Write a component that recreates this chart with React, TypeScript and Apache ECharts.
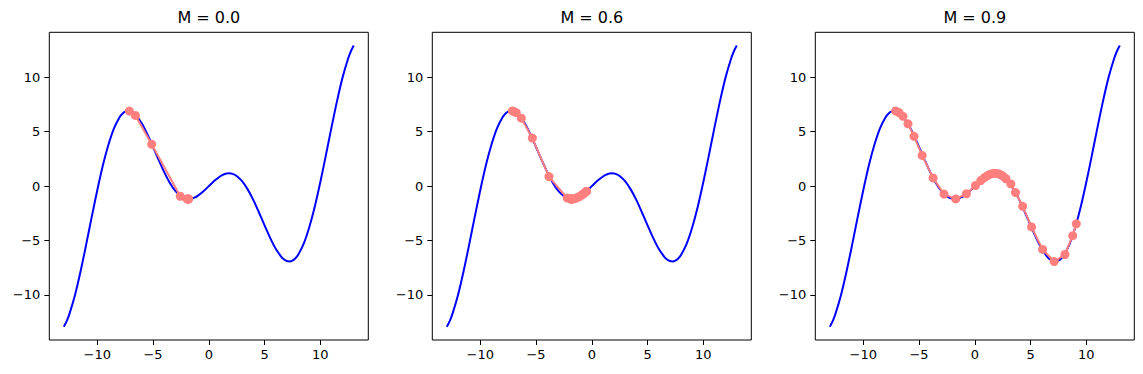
import { useEffect, useRef } from "react";
import * as echarts from "echarts";

// Objective curve, same in all three panels
const curveX = [
  -13, -12.75, -12.5, -12, -11.5, -11, -10.5, -10, -9.5, -9, -8.5, -8, -7.75, -7.5, -7.25, -7, -6.75, -6.5,
  -6, -5.5, -5, -4.5, -4, -3.5, -3, -2.5, -2.25, -2, -1.75, -1.5, -1.25, -1, -0.5, 0, 0.5, 1, 1.25, 1.5, 1.75,
  2, 2.25, 2.5, 3, 3.5, 4, 4.5, 5, 5.5, 6, 6.5, 6.75, 7, 7.25, 7.5, 7.75, 8, 8.5, 9, 9.5, 10, 10.5, 11, 11.5,
  12, 12.5, 12.75, 13,
];
const curveY = [
  -12.92, -12.42, -11.76, -10.02, -7.84, -5.4, -2.85, -0.38, 1.89, 3.8, 5.31, 6.33, 6.65, 6.84, 6.92, 6.88,
  6.74, 6.49, 5.75, 4.75, 3.6, 2.42, 1.29, 0.32, -0.44, -0.93, -1.08, -1.16, -1.18, -1.14, -1.04, -0.89,
  -0.49, 0, 0.49, 0.89, 1.04, 1.14, 1.18, 1.16, 1.08, 0.93, 0.44, -0.32, -1.29, -2.42, -3.6, -4.75, -5.75,
  -6.49, -6.74, -6.88, -6.92, -6.84, -6.65, -6.33, -5.31, -3.8, -1.89, 0.38, 2.85, 5.4, 7.84, 10.02, 11.76,
  12.42, 12.92,
];

const titles = ["M = 0.0", "M = 0.6", "M = 0.9"];

// Descent paths
const m0X = [-7.12, -6.58, -5.12, -2.56, -1.95, -1.86, -1.83, -1.82];
const m0Y = [6.9, 6.5, 3.85, -0.93, -1.17, -1.18, -1.18, -1.18];

const m6X = [
  -7.12, -7.02, -6.78, -6.32, -5.33, -3.84, -2.2, -1.75, -1.3, -0.9, -0.62, -0.47, -0.52, -0.76, -1.1, -1.45,
  -1.7, -1.84, -1.88, -1.84,
];
const m6Y = [
  6.91, 6.88, 6.76, 6.25, 4.42, 0.88, -1.1, -1.18, -1.06, -0.82, -0.6, -0.46, -0.51, -0.71, -0.95, -1.12,
  -1.17, -1.18, -1.18, -1.18,
];

const m9X = [
  -7.1, -6.8, -6.44, -5.99, -5.45, -4.72, -3.74, -2.76, -1.71, -0.75, 0.06, 0.54, 0.85, 1.1, 1.35, 1.55, 1.75,
  1.95, 2.15, 2.35, 2.55, 2.79, 3.23, 3.65, 4.29, 5.09, 6.08, 7.12, 8.08, 8.78, 9.1,
];
const m9Y = [
  6.91, 6.77, 6.42, 5.73, 4.58, 2.82, 0.76, -0.73, -1.17, -0.7, 0.06, 0.52, 0.78, 0.95, 1.08, 1.15, 1.18,
  1.17, 1.12, 1.03, 0.9, 0.68, 0.2, -0.59, -1.85, -3.75, -5.82, -6.93, -6.28, -4.55, -3.46,
];

const xTicks = [-10, -5, 0, 5, 10];
const yTicks = [-10, -5, 0, 5, 10];

const pathsX = [m0X, m6X, m9X];
const pathsY = [m0Y, m6Y, m9Y];

const FONT = "DejaVu Sans";

export default function App() {
  const ref = useRef<HTMLDivElement>(null);
  useEffect(() => {
    const chart = echarts.init(ref.current!, null, { renderer: "svg" });
    const lefts = [49.3, 432.3, 815.3];
    const gw = 319;
    const top = 32.3;
    const gh = 307.7;
    const curve = curveX.map((x, i) => [x, curveY[i]]);
    const fmt = (v: number) => String(v).replace("-", "\u2212");

    const grid = lefts.map((l) => ({
      left: l,
      top,
      width: gw,
      height: gh,
      show: true,
      borderColor: "#000",
      borderWidth: 1,
      backgroundColor: "transparent",
      containLabel: false,
    }));

    const xAxis = lefts.map((_, i) => ({
      type: "value",
      gridIndex: i,
      min: -14.3,
      max: 14.3,
      axisLine: { show: false, onZero: false },
      axisTick: { show: true, length: 5, lineStyle: { color: "#000", width: 1 }, customValues: xTicks },
      axisLabel: {
        customValues: xTicks,
        formatter: fmt,
        color: "#000",
        fontSize: 13,
        fontFamily: FONT,
        margin: 8,
      },
      splitLine: { show: false },
    }));

    const yAxis = lefts.map((_, i) => ({
      type: "value",
      gridIndex: i,
      min: -14.14,
      max: 14.14,
      axisLine: { show: false, onZero: false },
      axisTick: { show: true, length: 5, lineStyle: { color: "#000", width: 1 }, customValues: yTicks },
      axisLabel: {
        customValues: yTicks,
        formatter: fmt,
        color: "#000",
        fontSize: 13,
        fontFamily: FONT,
        margin: 9,
      },
      splitLine: { show: false },
    }));

    const series: any[] = [];
    lefts.forEach((_, i) => {
      series.push({
        type: "line",
        xAxisIndex: i,
        yAxisIndex: i,
        data: curve,
        showSymbol: false,
        smooth: 0.3,
        lineStyle: { color: "#0000ff", width: 2 },
        silent: true,
        z: 2,
      });
      series.push({
        type: "line",
        xAxisIndex: i,
        yAxisIndex: i,
        data: pathsX[i].map((x, k) => [x, pathsY[i][k]]),
        symbol: "circle",
        symbolSize: 9,
        showSymbol: true,
        showAllSymbol: true,
        itemStyle: { color: "#ff7f7f" },
        lineStyle: { color: "#ff7f7f", width: 2 },
        silent: true,
        z: 3,
      });
    });

    const graphic = lefts.map((l, i) => ({
      type: "text",
      x: l + gw / 2,
      y: 17.5,
      style: {
        text: titles[i],
        fontSize: 16,
        fontFamily: FONT,
        fill: "#000",
        textAlign: "center",
        textVerticalAlign: "middle",
      },
    }));

    chart.setOption({
      animation: false,
      backgroundColor: "#fff",
      grid,
      xAxis,
      yAxis,
      series,
      graphic,
    } as any);
    return () => chart.dispose();
  }, []);
  return (
    <div
      ref={ref}
      style={{ position: "fixed", left: 0, top: 0, width: 1143, height: 374, background: "#fff" }}
    />
  );
}
